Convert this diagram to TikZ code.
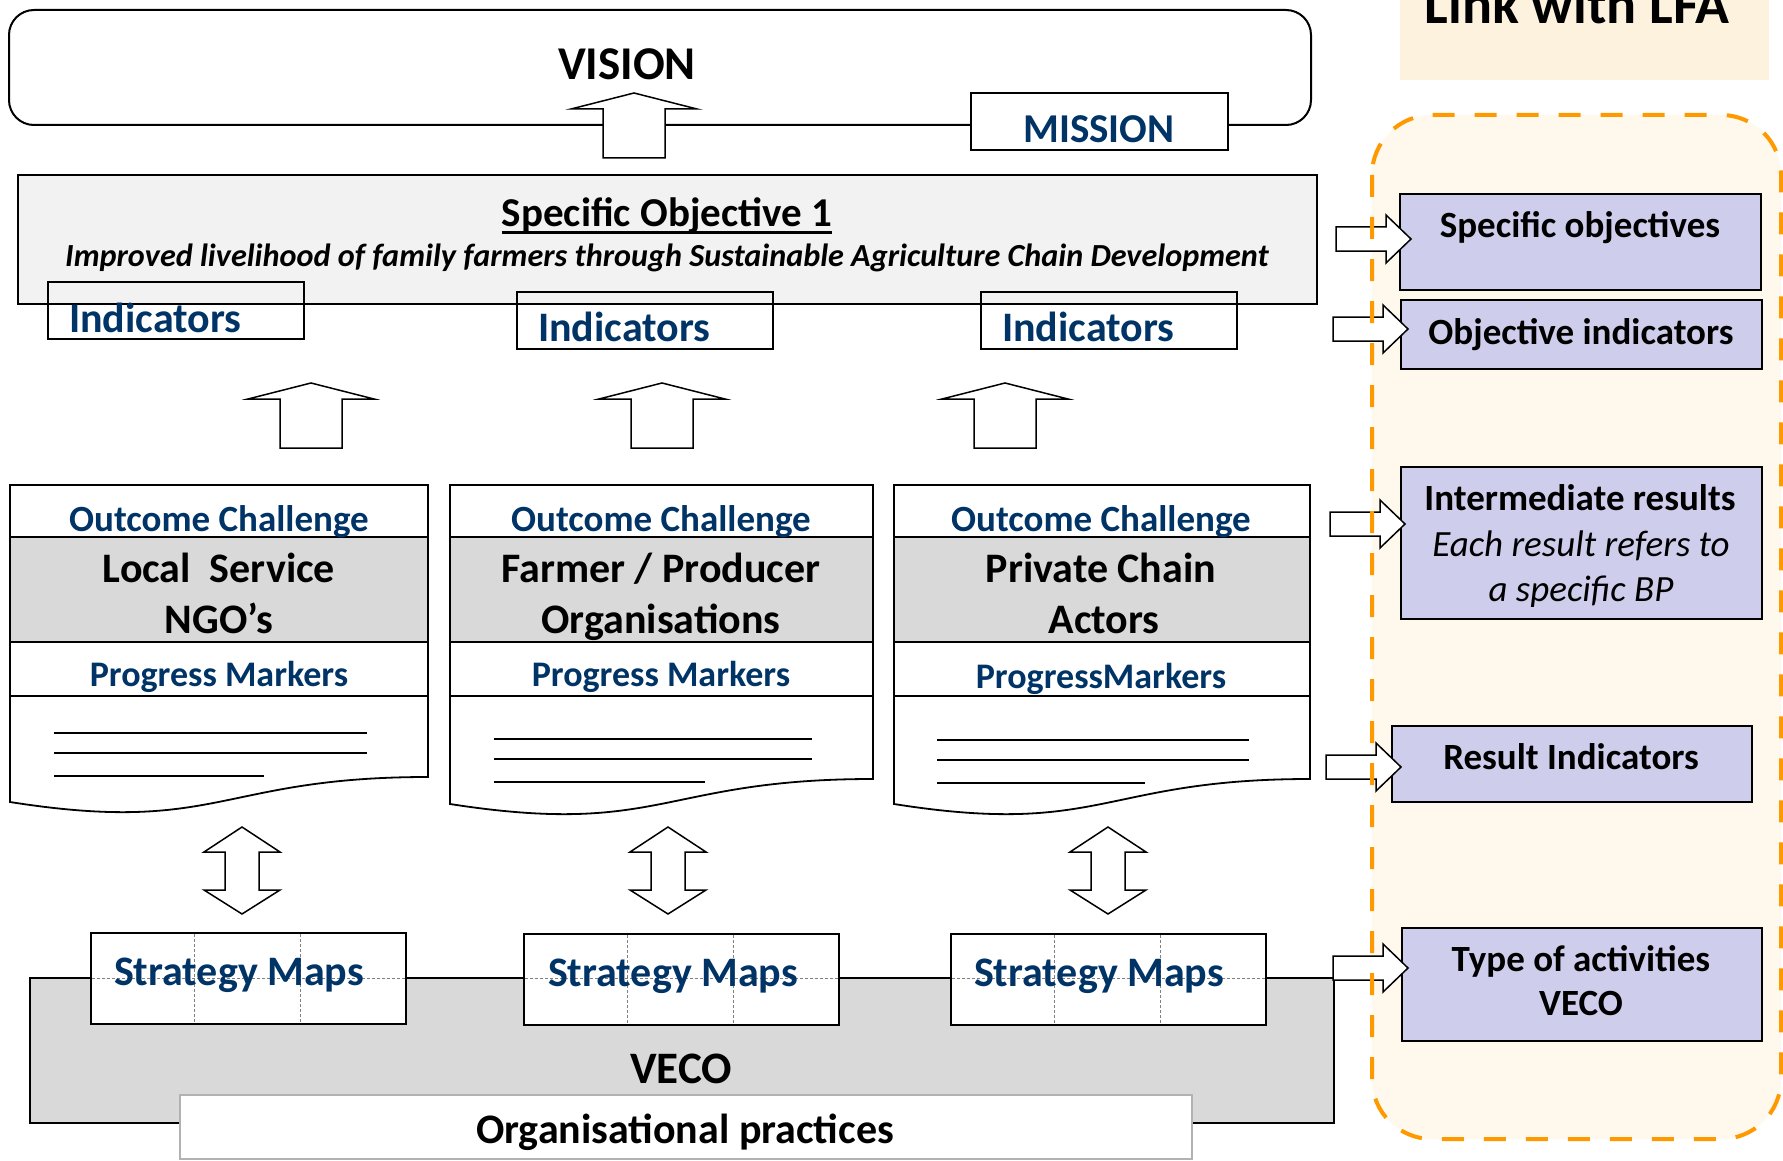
\documentclass[tikz,border=0pt]{standalone}
\usepackage{fontspec}
\setmainfont{Carlito}
\definecolor{navy}{RGB}{0,51,102}
\definecolor{sofill}{RGB}{242,242,242}
\definecolor{gfill}{RGB}{217,217,217}
\definecolor{lav}{RGB}{206,206,236}
\definecolor{orng}{RGB}{255,153,0}
\definecolor{panelbg}{RGB}{254,248,237}
\definecolor{titlebg}{RGB}{253,242,222}
\newcommand{\blockup}[2]{%
  \draw[barrow] (#1-31,#2+65) -- (#1-31,#2+16) -- (#1-63,#2+16) -- (#1,#2)
    -- (#1+63,#2+16) -- (#1+31,#2+16) -- (#1+31,#2+65) -- cycle;}
\newcommand{\blockud}[2]{%
  \draw[barrow] (#1,#2) -- (#1+38,#2+25) -- (#1+17,#2+25) -- (#1+17,#2+63)
    -- (#1+38,#2+63) -- (#1,#2+87) -- (#1-38,#2+63) -- (#1-17,#2+63)
    -- (#1-17,#2+25) -- (#1-38,#2+25) -- cycle;}
\newcommand{\blockright}[2]{%
  \draw[barrow] (#1-75,#2-12) -- (#1-25,#2-12) -- (#1-25,#2-24) -- (#1,#2)
    -- (#1-25,#2+24) -- (#1-25,#2+12) -- (#1-75,#2+12) -- cycle;}
\newcommand{\outcol}[3]{% left, right, bottom-right y
  \fill[gfill] (#1,537) rectangle (#2,642);
  \draw[line width=2.2pt] (#1,537) -- (#2,537) (#1,642) -- (#2,642);
  \draw[line width=1.5pt] (#1,696) -- (#2,696);
  \draw[line width=1.8pt] (#1,485) -- (#2,485) -- (#2,#3)
    .. controls ({(#1+#2)/2},#3) and ({(#1+#2)/2},#3+58) .. (#1,#3+25) -- cycle;}
\newcommand{\textlines}[4]{% left, right, y, short end
  \draw[line width=2.5pt] (#1,#3) -- (#2,#3) (#1,#3+20) -- (#2,#3+20) (#1,#3+43) -- (#4,#3+43);}
\newcommand{\stratbox}[2]{% left, top
  \draw[line width=1.8pt, fill=white] (#1,#2) rectangle (#1+315,#2+91);
  \draw[gray, densely dashed, line width=1pt] (#1+103,#2+1) -- (#1+103,#2+90)
    (#1+209,#2+1) -- (#1+209,#2+90) (#1+1,978) -- (#1+314,978);}
\begin{document}
\begin{tikzpicture}[x=1pt,y=-1pt,
  barrow/.style={draw=black, fill=white, line width=1.5pt, line join=miter},
  box/.style={draw=black, line width=2pt},
  txt/.style={inner sep=0pt, anchor=base},
  lavbox/.style={draw=black, fill=lav, line width=2pt, inner sep=0pt, anchor=north west}]
\useasboundingbox (0,0) rectangle (1783,1161);

% right panel background
\fill[titlebg] (1400,0) rectangle (1769,80);
\node[txt, font=\fontsize{56}{60}\selectfont\bfseries] (lfa) at (1577,24) {Link with LFA};
\fill[panelbg, rounded corners=60pt] (1372,115) rectangle (1781,1139);

% vision
\draw[box, rounded corners=25pt] (9,10) rectangle (1311,125);
\node[txt, font=\fontsize{47}{50}\selectfont\bfseries] (vision) at (627,80) {VISION};
\blockup{634}{93}
\draw[box, fill=white] (971,93) rectangle (1228,150);
\node[txt, navy, font=\fontsize{41}{50}\selectfont\bfseries] (mission) at (1099,143) {MISSION};

% specific objective
\draw[box, line width=2.5pt, fill=sofill] (18,175) rectangle (1317,304);
\node[txt, font=\fontsize{41}{50}\selectfont\bfseries] (sotitle) at (667,227) {Specific Objective 1};
\draw[line width=3pt] ([yshift=-6pt]sotitle.base west) -- ([yshift=-6pt]sotitle.base east);
\node[txt, font=\fontsize{32.2}{40}\selectfont\bfseries\itshape] (sotext) at (667,266)
  {Improved livelihood of family farmers through Sustainable Agriculture Chain Development};
\draw[box] (48,282) rectangle (304,339);
\draw[box] (517,292) rectangle (773,349);
\draw[box] (981,292) rectangle (1237,349);
\node[txt, anchor=base west, navy, font=\fontsize{42}{50}\selectfont\bfseries] (ind1) at (69,332) {Indicators};
\node[txt, anchor=base west, navy, font=\fontsize{42}{50}\selectfont\bfseries] (ind2) at (538,341) {Indicators};
\node[txt, anchor=base west, navy, font=\fontsize{42}{50}\selectfont\bfseries] (ind3) at (1002,341) {Indicators};

% up arrows
\blockup{311}{383}
\blockup{662}{383}
\blockup{1005}{383}

% outcome columns
\outcol{10}{428}{777}
\outcol{450}{873}{779}
\outcol{894}{1310}{779}
\textlines{54}{367}{733}{264}
\textlines{494}{812}{739}{705}
\textlines{937}{1249}{740}{1145}
\begin{scope}[every node/.style={txt, navy, font=\fontsize{37}{40}\selectfont\bfseries}]
\node (oc1) at (219,531) {Outcome Challenge};
\node (oc2) at (661,531) {Outcome Challenge};
\node (oc3) at (1101,531) {Outcome Challenge};
\end{scope}
\begin{scope}[every node/.style={txt, font=\fontsize{42}{50}\selectfont\bfseries}]
\node (g1a) at (219,582) {Local\ \ Service};
\node (g1b) at (219,633) {NGO’s};
\node (g2a) at (661,582) {Farmer / Producer};
\node (g2b) at (661,633) {Organisations};
\node (g3a) at (1101,582) {Private Chain};
\node (g3b) at (1104,633) {Actors};
\end{scope}
\begin{scope}[every node/.style={txt, navy, font=\fontsize{36}{40}\selectfont\bfseries}]
\node (pm1) at (219,686) {Progress Markers};
\node (pm2) at (661,686) {Progress Markers};
\node (pm3) at (1101,688) {ProgressMarkers};
\end{scope}

% double arrows
\blockud{242}{827}
\blockud{668}{827}
\blockud{1108}{827}

% VECO
\draw[box, fill=gfill] (30,978) rectangle (1334,1123);
\stratbox{91}{933}
\stratbox{524}{934}
\stratbox{951}{934}
\begin{scope}[every node/.style={txt, navy, font=\fontsize{42}{50}\selectfont\bfseries}]
\node (sm1) at (239,985) {Strategy Maps};
\node (sm2) at (673,986) {Strategy Maps};
\node (sm3) at (1099,986) {Strategy Maps};
\end{scope}
\node[txt, font=\fontsize{45}{50}\selectfont\bfseries] (veco) at (681,1083) {VECO};
\draw[fill=white, draw=gray!60, line width=1.5pt] (180,1095) rectangle (1192,1159);
\node[txt, font=\fontsize{42}{50}\selectfont\bfseries] (orgp) at (685,1143) {Organisational practices};

% LFA boxes
\node[lavbox, minimum width=361pt, minimum height=96pt] (b1) at (1399,193) {};
\node[lavbox, minimum width=361pt, minimum height=69pt] (b2) at (1400,299) {};
\node[lavbox, minimum width=361pt, minimum height=152pt] (b3) at (1400,466) {};
\node[lavbox, minimum width=360pt, minimum height=76pt] (b4) at (1391,725) {};
\node[lavbox, minimum width=360pt, minimum height=113pt] (b5) at (1401,927) {};
\begin{scope}[every node/.style={txt, font=\fontsize{37}{40}\selectfont\bfseries}]
\node (t1) at (1580,238) {Specific objectives};
\node (t2) at (1581,344) {Objective indicators};
\node (t3) at (1580,510) {Intermediate results};
\node (t4) at (1571,769) {Result Indicators};
\node (t5a) at (1581,971) {Type of activities};
\node (t5b) at (1581,1015) {VECO};
\end{scope}
\begin{scope}[every node/.style={txt, font=\fontsize{37}{40}\selectfont\itshape}]
\node (t3b) at (1581,556) {Each result refers to};
\node (t3c) at (1581,601) {a specific BP};
\end{scope}

% right arrows
\blockright{1411}{239}
\blockright{1408}{329}
\blockright{1405}{524}
\blockright{1401}{767}
\blockright{1408}{968}

% dashed frame
\draw[orng, line width=4pt, dash pattern=on 22pt off 20pt, rounded corners=60pt] (1372,115) rectangle (1781,1139);
\end{tikzpicture}
\end{document}
